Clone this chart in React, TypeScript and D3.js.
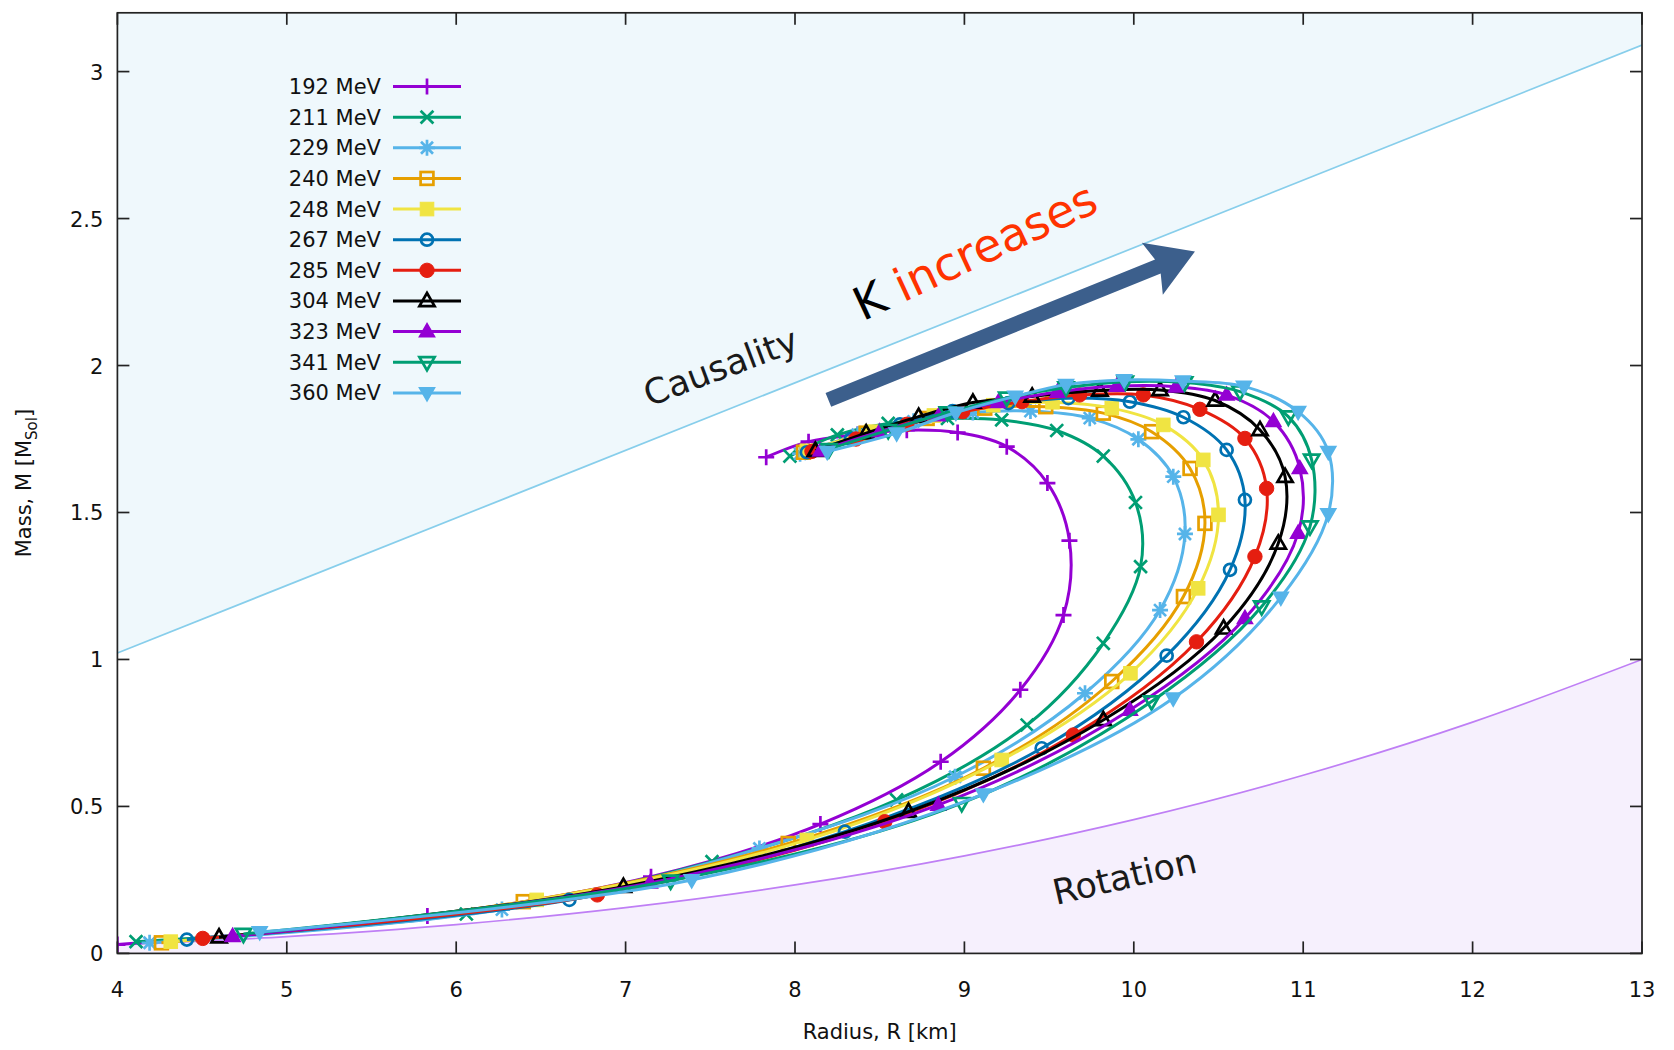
import React from 'react';
import * as d3 from 'd3';

// ---------- axes ----------
const xDomain = [4, 13];
const yDomain = [0, 3.2];
const xTicks = [4, 5, 6, 7, 8, 9, 10, 11, 12, 13];
const yTicks = [0, 0.5, 1, 1.5, 2, 2.5, 3];
const xTitle = 'Radius, R [km]';

// ---------- series ----------
const seriesNames = ['192 MeV', '211 MeV', '229 MeV', '240 MeV', '248 MeV', '267 MeV', '285 MeV', '304 MeV', '323 MeV', '341 MeV', '360 MeV'];
const seriesColors = ['#9400d3', '#009e73', '#56b4e9', '#e69f00', '#f0e442', '#0072b2', '#e51e10', '#000000', '#9400d3', '#009e73', '#56b4e9'];
const seriesMarkers = ['plus', 'cross', 'star', 'squareOpen', 'square', 'circleOpen', 'circle', 'triUpOpen', 'triUp', 'triDownOpen', 'triDown'];

const r192 = [4.0, 5.83, 7.15, 8.15, 8.86, 9.33, 9.585, 9.62, 9.49, 9.25, 8.96, 8.66, 8.37, 8.08, 7.83];
const m192 = [0.03, 0.127, 0.261, 0.44, 0.652, 0.897, 1.151, 1.404, 1.6, 1.724, 1.772, 1.78, 1.765, 1.741, 1.688];

const r211 = [4.11, 6.06, 7.51, 8.6, 9.37, 9.82, 10.04, 10.01, 9.82, 9.545, 9.22, 8.9, 8.55, 8.25, 7.97];
const m211 = [0.04, 0.134, 0.312, 0.522, 0.777, 1.055, 1.316, 1.534, 1.692, 1.779, 1.815, 1.82, 1.803, 1.764, 1.692];

const r229 = [4.19, 6.27, 7.79, 8.945, 9.712, 10.155, 10.302, 10.233, 10.027, 9.74, 9.39, 9.05, 8.7, 8.37, 8.03];
const m229 = [0.036, 0.149, 0.357, 0.601, 0.885, 1.168, 1.427, 1.622, 1.749, 1.821, 1.845, 1.84, 1.81, 1.765, 1.7];

const r240 = [4.26, 6.396, 7.96, 9.112, 9.87, 10.293, 10.42, 10.332, 10.105, 9.82, 9.48, 9.12, 8.78, 8.42, 8.05];
const m240 = [0.036, 0.176, 0.374, 0.63, 0.925, 1.214, 1.463, 1.65, 1.775, 1.838, 1.86, 1.855, 1.82, 1.77, 1.705];

const r248 = [4.315, 6.475, 8.07, 9.22, 9.98, 10.38, 10.5, 10.41, 10.174, 9.87, 9.52, 9.17, 8.82, 8.45, 8.07];
const m248 = [0.04, 0.182, 0.386, 0.658, 0.953, 1.242, 1.492, 1.679, 1.798, 1.855, 1.875, 1.865, 1.83, 1.775, 1.71];

const r267 = [4.41, 6.668, 8.295, 9.456, 10.194, 10.568, 10.656, 10.548, 10.293, 9.977, 9.614, 9.26, 8.93, 8.62, 8.33, 8.07];
const m267 = [0.047, 0.182, 0.414, 0.698, 1.013, 1.305, 1.543, 1.713, 1.824, 1.877, 1.889, 1.872, 1.845, 1.8, 1.75, 1.705];

const r285 = [4.504, 6.833, 8.53, 9.643, 10.37, 10.715, 10.784, 10.656, 10.39, 10.056, 9.68, 9.34, 8.99, 8.66, 8.36, 8.1];
const m285 = [0.051, 0.199, 0.448, 0.743, 1.06, 1.35, 1.582, 1.752, 1.851, 1.9, 1.9, 1.877, 1.843, 1.8, 1.75, 1.708];

const r304 = [4.6, 6.987, 8.67, 9.82, 10.53, 10.853, 10.893, 10.745, 10.48, 10.155, 9.8, 9.4, 9.05, 8.73, 8.42, 8.12];
const m304 = [0.055, 0.227, 0.482, 0.794, 1.106, 1.395, 1.622, 1.781, 1.881, 1.917, 1.915, 1.895, 1.874, 1.826, 1.77, 1.71];

const r323 = [4.68, 7.144, 8.846, 9.977, 10.656, 10.97, 10.98, 10.824, 10.548, 10.25, 9.9, 9.55, 9.2, 8.85, 8.5, 8.15];
const m323 = [0.058, 0.24, 0.505, 0.828, 1.14, 1.43, 1.65, 1.81, 1.9, 1.928, 1.93, 1.91, 1.875, 1.83, 1.775, 1.71];

const r341 = [4.744, 7.266, 8.984, 10.105, 10.755, 11.04, 11.05, 10.912, 10.627, 10.3, 9.95, 9.6, 9.25, 8.9, 8.55, 8.2];
const m341 = [0.066, 0.247, 0.511, 0.857, 1.18, 1.452, 1.679, 1.826, 1.911, 1.942, 1.945, 1.925, 1.89, 1.84, 1.78, 1.715];

const r360 = [4.84, 7.39, 9.112, 10.233, 10.868, 11.148, 11.148, 10.97, 10.65, 10.29, 9.943, 9.6, 9.3, 8.95, 8.6, 8.19];
const m360 = [0.073, 0.25, 0.542, 0.868, 1.211, 1.495, 1.707, 1.843, 1.929, 1.947, 1.951, 1.935, 1.895, 1.84, 1.77, 1.707];

const seriesR = [r192, r211, r229, r240, r248, r267, r285, r304, r323, r341, r360];
const seriesM = [m192, m211, m229, m240, m248, m267, m285, m304, m323, m341, m360];

// ---------- limits ----------
const causalityR = [4, 13];
const causalityM = [1.022, 3.09];
const rotationR = [4, 5, 6, 7, 8, 9, 10, 11, 12, 13];
const rotationM = [0.029, 0.057, 0.098, 0.156, 0.233, 0.332, 0.455, 0.606, 0.787, 1.0];

// ---------- annotations (data coords) ----------
const arrowFrom = [8.197, 1.883];
const arrowTo = [10.361, 2.388];
const causalityLabelPos = [7.14, 1.86];
const rotationLabelPos = [9.54, 0.165];
const kLabelPos = [8.4, 2.15];

const W = 1674;
const H = 1050;
const M = { left: 117.4, right: 1642, top: 12.8, bottom: 953.4 };
const FONT = "'DejaVu Sans', Verdana, sans-serif";

function Marker({ type, x, y, color, s = 8 }: any) {
  const sw = 2.7;
  const common = { stroke: color, strokeWidth: sw, fill: 'none' } as any;
  if (type === 'plus') return <path d={`M${x - s},${y}H${x + s}M${x},${y - s}V${y + s}`} {...common} />;
  if (type === 'cross') {
    const d = s * 0.8;
    return <path d={`M${x - d},${y - d}L${x + d},${y + d}M${x - d},${y + d}L${x + d},${y - d}`} {...common} />;
  }
  if (type === 'star') {
    const d = s * 0.75;
    return <path d={`M${x - s},${y}H${x + s}M${x},${y - s}V${y + s}M${x - d},${y - d}L${x + d},${y + d}M${x - d},${y + d}L${x + d},${y - d}`} {...common} />;
  }
  if (type === 'squareOpen') { const a = s * 0.8; return <rect x={x - a} y={y - a} width={2 * a} height={2 * a} {...common} />; }
  if (type === 'square') { const a = s * 0.85; return <rect x={x - a} y={y - a} width={2 * a} height={2 * a} fill={color} stroke={color} strokeWidth={1} />; }
  if (type === 'circleOpen') return <circle cx={x} cy={y} r={s * 0.75} {...common} />;
  if (type === 'circle') return <circle cx={x} cy={y} r={s * 0.9} fill={color} stroke={color} strokeWidth={1} />;
  const up = type === 'triUp' || type === 'triUpOpen';
  const open = type.endsWith('Open');
  const h = up ? 1 : -1;
  const pts = `${x},${y - h * s} ${x - s * 0.95},${y + h * s * 0.65} ${x + s * 0.95},${y + h * s * 0.65}`;
  return open
    ? <polygon points={pts} {...common} strokeLinejoin="miter" />
    : <polygon points={pts} fill={color} stroke={color} strokeWidth={1.5} strokeLinejoin="miter" />;
}

export default function App() {
  const xs = d3.scaleLinear().domain(xDomain).range([M.left, M.right]);
  const ys = d3.scaleLinear().domain(yDomain).range([M.bottom, M.top]);

  const line = d3.line<number[]>().x(d => xs(d[0])).y(d => ys(d[1])).curve(d3.curveCatmullRom.alpha(0.5));
  const straight = d3.line<number[]>().x(d => xs(d[0])).y(d => ys(d[1]));
  const causalPts = causalityR.map((r, i) => [r, causalityM[i]]);
  const rotPts = rotationR.map((r, i) => [r, rotationM[i]]);
  const causalArea = d3.area<number[]>().x(d => xs(d[0])).y0(ys(yDomain[1])).y1(d => ys(d[1]));
  const rotArea = d3.area<number[]>().x(d => xs(d[0])).y0(ys(0)).y1(d => ys(d[1])).curve(d3.curveMonotoneX);
  const rotLine = d3.line<number[]>().x(d => xs(d[0])).y(d => ys(d[1])).curve(d3.curveMonotoneX);

  // arrow geometry
  const ax0 = xs(arrowFrom[0]), ay0 = ys(arrowFrom[1]);
  const ax1 = xs(arrowTo[0]), ay1 = ys(arrowTo[1]);
  const ang = Math.atan2(ay1 - ay0, ax1 - ax0);
  const len = Math.hypot(ax1 - ax0, ay1 - ay0);
  const headL = 40, headW = 28, shaftW = 7.5;
  const arrowPoly = [
    [0, -shaftW], [len - headL, -shaftW], [len - headL - 6, -headW], [len, 0],
    [len - headL - 6, headW], [len - headL, shaftW], [0, shaftW],
  ].map(p => p.join(',')).join(' ');

  const tick = 12;
  const legendY0 = 86.5, legendDy = 30.64;

  return (
    <svg width={W} height={H} style={{ position: 'absolute', left: 0, top: 0, background: '#fff' }} fontFamily={FONT}>
      <defs>
        <clipPath id="plotclip">
          <rect x={M.left} y={M.top} width={M.right - M.left} height={M.bottom - M.top} />
        </clipPath>
      </defs>

      <g clipPath="url(#plotclip)">
        <path d={causalArea(causalPts) || ''} fill="#eff8fc" />
        <path d={straight(causalPts) || ''} fill="none" stroke="#87ceeb" strokeWidth={1.7} />
        <path d={rotArea(rotPts) || ''} fill="#f6f0fd" />
        <path d={rotLine(rotPts) || ''} fill="none" stroke="#bf7ff5" strokeWidth={1.7} />
      </g>

      {/* annotations */}
      <text transform={`translate(${xs(causalityLabelPos[0])},${ys(causalityLabelPos[1])}) rotate(-20.5)`} fontSize={35} fill="#1a1a1a">Causality</text>
      <text transform={`translate(${xs(rotationLabelPos[0])},${ys(rotationLabelPos[1])}) rotate(-13)`} fontSize={35} fill="#1a1a1a">Rotation</text>
      <text transform={`translate(${xs(kLabelPos[0])},${ys(kLabelPos[1])}) rotate(-25)`} fontSize={46}>
        <tspan fill="#000">K </tspan><tspan fill="#ff3300">increases</tspan>
      </text>
      <polygon transform={`translate(${ax0},${ay0}) rotate(${ang * 180 / Math.PI})`} points={arrowPoly} fill="#3c5f8c" />

      {/* curves */}
      <g clipPath="url(#plotclip)">
        {seriesNames.map((name, si) => {
          const pts = seriesR[si].map((r, i) => [r, seriesM[si][i]]);
          return (
            <g key={name}>
              <path d={line(pts) || ''} fill="none" stroke={seriesColors[si]} strokeWidth={3} />
              {pts.map((p, i) => (
                <Marker key={i} type={seriesMarkers[si]} x={xs(p[0])} y={ys(p[1])} color={seriesColors[si]} />
              ))}
            </g>
          );
        })}
      </g>

      {/* border & ticks */}
      <rect x={M.left} y={M.top} width={M.right - M.left} height={M.bottom - M.top} fill="none" stroke="#222" strokeWidth={1.7} />
      {xTicks.map(t => (
        <g key={'x' + t}>
          <line x1={xs(t)} x2={xs(t)} y1={M.bottom} y2={M.bottom - tick} stroke="#222" strokeWidth={1.7} />
          <line x1={xs(t)} x2={xs(t)} y1={M.top} y2={M.top + tick} stroke="#222" strokeWidth={1.7} />
          <text x={xs(t)} y={M.bottom + 44} fontSize={21} textAnchor="middle" fill="#111">{t}</text>
        </g>
      ))}
      {yTicks.map(t => (
        <g key={'y' + t}>
          <line x1={M.left} x2={M.left + tick} y1={ys(t)} y2={ys(t)} stroke="#222" strokeWidth={1.7} />
          <line x1={M.right} x2={M.right - tick} y1={ys(t)} y2={ys(t)} stroke="#222" strokeWidth={1.7} />
          <text x={M.left - 14} y={ys(t) + 8} fontSize={21} textAnchor="end" fill="#111">{t}</text>
        </g>
      ))}

      <text x={(M.left + M.right) / 2} y={1039} fontSize={21} textAnchor="middle" fill="#111">{xTitle}</text>
      <text transform={`translate(31,${(M.top + M.bottom) / 2}) rotate(-90)`} fontSize={21} textAnchor="middle" fill="#111">
        Mass, M [M<tspan fontSize={15} dy={6}>Sol</tspan><tspan dy={-6}>]</tspan>
      </text>

      {/* legend */}
      {seriesNames.map((name, si) => {
        const y = legendY0 + si * legendDy;
        return (
          <g key={'lg' + name}>
            <text x={381} y={y + 7.5} fontSize={21} textAnchor="end" fill="#111">{name}</text>
            <line x1={393} x2={461} y1={y} y2={y} stroke={seriesColors[si]} strokeWidth={3} />
            <Marker type={seriesMarkers[si]} x={427} y={y} color={seriesColors[si]} />
          </g>
        );
      })}
    </svg>
  );
}
